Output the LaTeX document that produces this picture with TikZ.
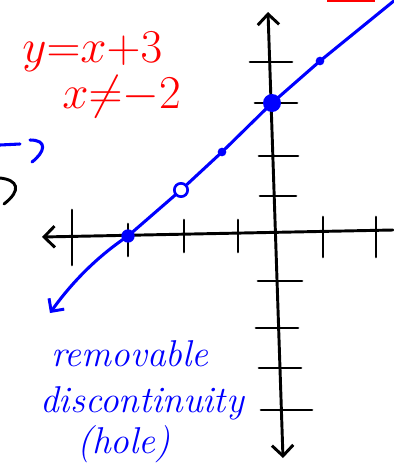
\documentclass[tikz,border=0pt]{standalone}
\usetikzlibrary{arrows.meta}
\begin{document}
\begin{tikzpicture}[x=0.75pt,y=-0.75pt,line cap=round,line join=round,
    ax/.style={line width=2.2pt},
    tk/.style={line width=2pt},
    pen/.style={blue,line width=2.3pt},
    dot/.style={circle,fill=blue,inner sep=0pt},
    redtxt/.style={red,font=\fontsize{24.88}{24}\selectfont,scale=1.42,inner sep=0pt,align=left},
    bluetxt/.style={blue,font=\fontsize{28}{28}\selectfont\itshape,inner sep=1pt},
    barb/.tip={Straight Barb[length=8pt,width=16pt,line width=2.2pt]}]
\useasboundingbox (0,0) rectangle (393,468);
% axes
\coordinate (xl) at (42,237);
\coordinate (xr) at (393,230);
\coordinate (yt) at (268,12);
\coordinate (yb) at (283,458);
\draw[ax,-barb] (xr) -- (xl);
\draw[ax,barb-barb] (yt) -- (yb);
% ticks on x
\foreach \x/\a/\b in {72/210/265,128/224/256,184/220/252,238/220/252,323/217/257,376/217/257}
  \draw[tk] (\x,\a) -- (\x,\b);
% ticks on y
\foreach \y/\a/\b in {62/250/292,103/255/297,156/259/298,196/260/296,281/258/302,328/256/298,368/259/301,410/261/312}
  \draw[tk] (\a,\y) -- (\b,\y);
% points on the line
\node[dot,minimum size=10pt] (A) at (128,236) {};
\node[circle,draw=blue,line width=2pt,fill=white,minimum size=10pt,inner sep=0pt] (H) at (181,190) {};
\node[dot,minimum size=6.5pt] (B) at (222,152) {};
\node[dot,minimum size=13.5pt] (C) at (272,103) {};
\node[dot,minimum size=6.5pt] (D) at (320,61) {};
\coordinate (E) at (395,0);
\coordinate (F) at (50,313);
% the line y=x+3
\draw[pen] (E) -- (D.center) -- (C.center) -- (B.center) -- (H);
\draw[pen,-{Straight Barb[length=7pt,width=14pt,line width=2.2pt]}] (H) -- (A.center)
  .. controls (95,258) and (70,285) .. (F);
% cut-off marks at the edges
\draw[pen] (0,145) -- (20,144);
\draw[pen] (30,140) .. controls (48,140) and (45,152) .. (32,162);
\draw[ax] (0,178) .. controls (18,180) and (22,190) .. (4,204);
\draw[red,line width=2pt,line cap=butt] (327,1) -- (375,1);
% labels
\node[redtxt,anchor=west] (eq) at (22,75) {$y{=}x{+}3$\\\hspace*{0.85em}$x{\neq}{-}2$};
\node[bluetxt] (t1) at (130,354) {removable};
\node[bluetxt] (t2) at (142,403) {discontinuity};
\node[bluetxt] (t3) at (124,444) {(hole)};
\end{tikzpicture}
\end{document}
